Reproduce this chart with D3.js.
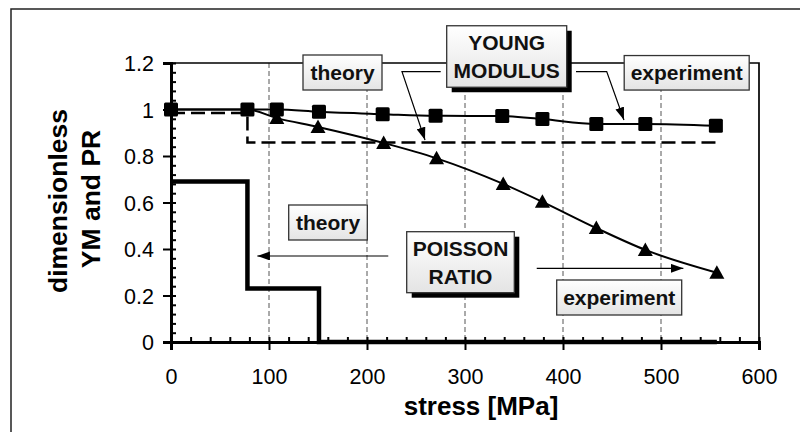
<!DOCTYPE html>
<html>
<head>
<meta charset="utf-8">
<script src="https://cdn.jsdelivr.net/npm/d3@7"></script>
<style>
  body { margin: 0; background: #fff; }
  svg { display: block; font-family: "Liberation Sans", Arial, sans-serif; }
</style>
</head>
<body>
<script>
// data
var ymStress = [0, 78, 108, 151, 216, 270, 338, 379, 434, 484, 556];
var ymExp = [1.0, 1.0, 1.0, 0.99, 0.98, 0.973, 0.972, 0.959, 0.938, 0.938, 0.93];

var prStress = [0, 78, 108, 150, 217, 271, 339, 379, 434, 484, 557];
var prExp = [1.0, 1.0, 0.963, 0.925, 0.856, 0.79, 0.68, 0.603, 0.49, 0.396, 0.298];

// theory curves (steps)
var ymTheoryStress = [0, 78, 557];
var ymTheory = [0.985, 0.858, 0.858];
var prTheoryStress = [0, 78, 151, 557];
var prTheory = [0.69, 0.23, 0, 0];

var xTicks = [0, 100, 200, 300, 400, 500, 600];
var yTicks = [0, 0.2, 0.4, 0.6, 0.8, 1, 1.2];
var gridX = [100, 200, 300, 400, 500];

var width = 800, height = 432;

var svg = d3.select("body").append("svg")
    .attr("width", width)
    .attr("height", height);

// outer border
svg.append("rect")
    .attr("x", 11).attr("y", 9)
    .attr("width", 800).attr("height", 440)
    .attr("fill", "none")
    .attr("stroke", "#222")
    .attr("stroke-width", 1.5);

var x = d3.scaleLinear().domain([0, 600]).range([171, 759]);
var y = d3.scaleLinear().domain([0, 1.2]).range([342, 63]);

var defs = svg.append("defs");
var grad = defs.append("linearGradient")
    .attr("id", "boxfill")
    .attr("x1", 0).attr("y1", 0).attr("x2", 0).attr("y2", 1);
grad.append("stop").attr("offset", "0%").attr("stop-color", "#ffffff");
grad.append("stop").attr("offset", "100%").attr("stop-color", "#e4e4e4");

defs.append("marker")
    .attr("id", "arrow")
    .attr("viewBox", "0 0 14 10")
    .attr("refX", 14).attr("refY", 5)
    .attr("markerWidth", 13).attr("markerHeight", 9)
    .attr("markerUnits", "userSpaceOnUse")
    .attr("orient", "auto")
    .append("path")
    .attr("d", "M0,0L14,5L0,10Z")
    .attr("fill", "#000");

// vertical dashed grid
svg.append("g").selectAll("line")
    .data(gridX)
    .enter().append("line")
    .attr("x1", function (d) { return x(d); })
    .attr("x2", function (d) { return x(d); })
    .attr("y1", y(1.2))
    .attr("y2", y(0))
    .attr("stroke", "#555")
    .attr("stroke-width", 1)
    .attr("stroke-dasharray", "5,3");

// top and right frame
svg.append("path")
    .attr("d", "M" + x(0) + "," + y(1.2) + "H" + x(600) + "V" + y(0))
    .attr("fill", "none")
    .attr("stroke", "#000")
    .attr("stroke-width", 1.7);

// axes
var xAxis = svg.append("g")
    .attr("transform", "translate(0," + y(0) + ")")
    .call(d3.axisBottom(x).tickValues(xTicks).tickSize(8).tickPadding(19)
        .tickFormat(d3.format("d")));
var xMinor = svg.append("g")
    .attr("transform", "translate(0," + y(0) + ")")
    .call(d3.axisTop(x).tickValues(d3.range(0, 601, 20)).tickSize(5).tickFormat(""));

var yAxis = svg.append("g")
    .attr("transform", "translate(" + x(0) + ",0)")
    .call(d3.axisLeft(y).tickValues(yTicks).tickSize(8).tickPadding(9)
        .tickFormat(function (d) { return String(+d.toFixed(1)); }));
var yMinor = svg.append("g")
    .attr("transform", "translate(" + x(0) + ",0)")
    .call(d3.axisRight(y).tickValues(d3.range(0, 31).map(function (i) { return i * 0.04; }))
        .tickSize(5).tickFormat(""));

[xAxis, xMinor, yAxis, yMinor].forEach(function (g) {
    g.select(".domain").attr("stroke", "#000").attr("stroke-width", 3);
    g.selectAll(".tick line").attr("stroke", "#000").attr("stroke-width", 2);
    g.selectAll(".tick text")
        .attr("fill", "#000")
        .style("font-size", "21.5px")
        .style("font-family", "'Liberation Sans', Arial, sans-serif");
});
xMinor.select(".domain").remove();
yMinor.select(".domain").remove();
yAxis.selectAll(".tick text").attr("dy", "0.36em");

// axis titles
svg.append("text")
    .attr("x", x(300) + 16)
    .attr("y", 415)
    .attr("text-anchor", "middle")
    .style("font-size", "26px")
    .style("font-weight", "bold")
    .text("stress [MPa]");

svg.append("text")
    .attr("transform", "translate(67,201) rotate(-90)")
    .attr("text-anchor", "middle")
    .style("font-size", "26.5px")
    .style("font-weight", "bold")
    .text("dimensionless");
svg.append("text")
    .attr("transform", "translate(100,199) rotate(-90)")
    .attr("text-anchor", "middle")
    .style("font-size", "26.5px")
    .style("font-weight", "bold")
    .text("YM and PR");

// lines
function pairs(xs, ys) {
    return xs.map(function (v, i) { return [v, ys[i]]; });
}
var line = d3.line()
    .x(function (d) { return x(d[0]); })
    .y(function (d) { return y(d[1]); });
var stepLine = d3.line()
    .curve(d3.curveStepAfter)
    .x(function (d) { return x(d[0]); })
    .y(function (d) { return y(d[1]); });

svg.append("path")
    .datum(pairs(prTheoryStress, prTheory))
    .attr("d", stepLine)
    .attr("fill", "none")
    .attr("stroke", "#000")
    .attr("stroke-width", 4.5);

svg.append("path")
    .datum(pairs(ymTheoryStress, ymTheory))
    .attr("d", stepLine)
    .attr("fill", "none")
    .attr("stroke", "#000")
    .attr("stroke-width", 2.5)
    .attr("stroke-dasharray", "14,6");

svg.append("path")
    .datum(pairs(prStress, prExp))
    .attr("d", line.curve(d3.curveMonotoneX))
    .attr("fill", "none")
    .attr("stroke", "#000")
    .attr("stroke-width", 2);

svg.append("path")
    .datum(pairs(ymStress, ymExp))
    .attr("d", line.curve(d3.curveMonotoneX))
    .attr("fill", "none")
    .attr("stroke", "#000")
    .attr("stroke-width", 2);

// markers
svg.append("g").selectAll("path")
    .data(pairs(prStress, prExp).slice(2))
    .enter().append("path")
    .attr("transform", function (d) { return "translate(" + x(d[0]) + "," + y(d[1]) + ")"; })
    .attr("d", "M0,-7.5L7.5,6L-7.5,6Z")
    .attr("fill", "#000");

svg.append("g").selectAll("rect")
    .data(pairs(ymStress, ymExp))
    .enter().append("rect")
    .attr("x", function (d) { return x(d[0]) - 7; })
    .attr("y", function (d) { return y(d[1]) - 7; })
    .attr("width", 14).attr("height", 14)
    .attr("rx", 1.5)
    .attr("fill", "#000");

// callout arrows (data units)
var arrows = [
    [[275.2, 1.163], [235.7, 1.163], [259.2, 0.869]],
    [[413.3, 1.163], [444.6, 1.163], [462.2, 0.955]],
    [[221.7, 0.37], [88.1, 0.37]],
    [[373.2, 0.317], [522.8, 0.317]]
];
svg.append("g").selectAll("path")
    .data(arrows)
    .enter().append("path")
    .attr("d", line.curve(d3.curveLinear))
    .attr("fill", "none")
    .attr("stroke", "#000")
    .attr("stroke-width", 1.2)
    .attr("marker-end", "url(#arrow)");

// callout boxes: center x, center y, width, height, lines, shadow
var boxes = [
    { cx: 342.5, cy: 72.5, w: 79, h: 35, lines: ["theory"], shadow: false },
    { cx: 506.7, cy: 56.5, w: 120, h: 61.5, lines: ["YOUNG", "MODULUS"], shadow: true },
    { cx: 686.7, cy: 72.8, w: 125, h: 34.5, lines: ["experiment"], shadow: false },
    { cx: 328, cy: 222.5, w: 78.6, h: 35, lines: ["theory"], shadow: false },
    { cx: 460.5, cy: 262.2, w: 107.6, h: 61, lines: ["POISSON", "RATIO"], shadow: true },
    { cx: 619.2, cy: 297.5, w: 125, h: 35, lines: ["experiment"], shadow: false }
];

var box = svg.append("g").selectAll("g")
    .data(boxes)
    .enter().append("g");

box.filter(function (d) { return d.shadow; })
    .append("rect")
    .attr("x", function (d) { return d.cx - d.w / 2 + 5; })
    .attr("y", function (d) { return d.cy - d.h / 2 + 5; })
    .attr("width", function (d) { return d.w; })
    .attr("height", function (d) { return d.h; })
    .attr("fill", "#000");

box.append("rect")
    .attr("x", function (d) { return d.cx - d.w / 2; })
    .attr("y", function (d) { return d.cy - d.h / 2; })
    .attr("width", function (d) { return d.w; })
    .attr("height", function (d) { return d.h; })
    .attr("fill", "url(#boxfill)")
    .attr("stroke", "#333")
    .attr("stroke-width", 1.3);

box.each(function (d) {
    var g = d3.select(this);
    var n = d.lines.length;
    d.lines.forEach(function (t, i) {
        g.append("text")
            .attr("x", d.cx)
            .attr("y", d.cy + (i - (n - 1) / 2) * 28.5)
            .attr("dy", "0.36em")
            .attr("text-anchor", "middle")
            .style("font-size", "21px")
            .style("font-weight", "bold")
            .attr("fill", "#111")
            .text(t);
    });
});
</script>
</body>
</html>
